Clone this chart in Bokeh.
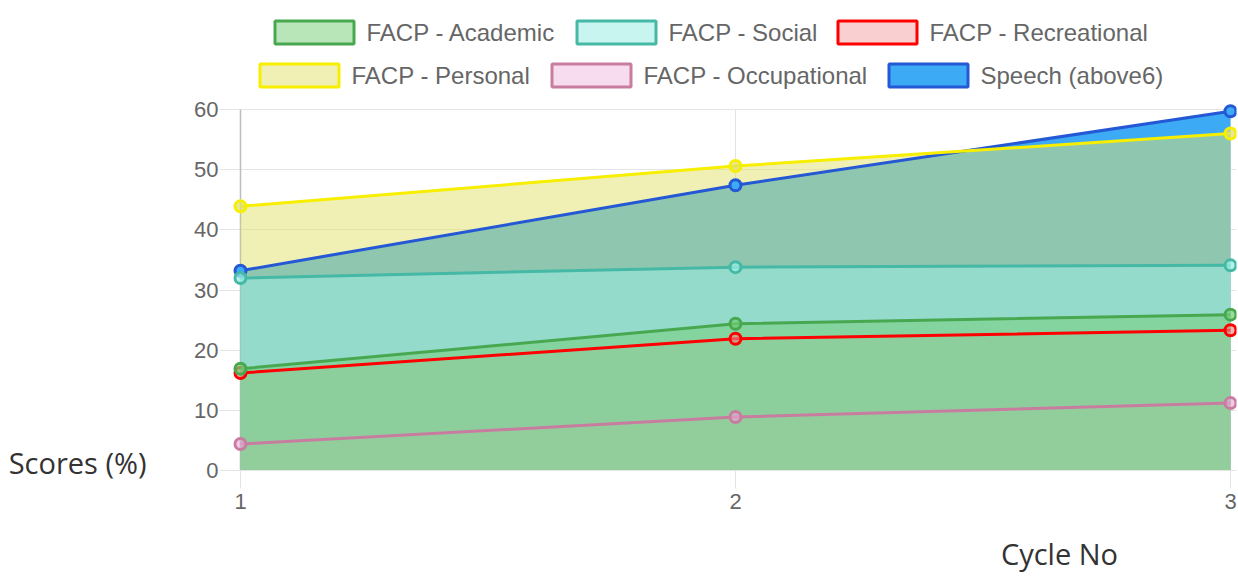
from bokeh.plotting import figure
from bokeh.models import Range1d, FixedTicker, LinearAxis
from bokeh.core.properties import value
from bokeh.embed import file_html
from bokeh.resources import INLINE

# ---------------- data ----------------
cycles = [1, 2, 3]
academic = [16.9, 24.4, 25.9]
social = [32.0, 33.8, 34.1]
recreational = [16.2, 21.9, 23.3]
personal = [43.9, 50.6, 56.0]
occupational = [4.4, 8.9, 11.2]
speech = [33.2, 47.4, 59.7]

series_names = ["FACP - Academic", "FACP - Social", "FACP - Recreational",
                "FACP - Personal", "FACP - Occupational", "Speech (above6)"]
series_values = [academic, social, recreational, personal, occupational, speech]
y_ticks = [0, 10, 20, 30, 40, 50, 60]
x_title = "Cycle No"
y_title = "Scores (%)"

# ---------------- styles ----------------
line_colors = ["#48A850", "#45B9A5", "#FF0000", "#F7EE00", "#C87DA0", "#2458D4"]
fill_colors = ["#73CD73", "#9BEDE4", "#F08787", "#E1E169", "#EBA5D7", "#3CAAF5"]
fill_alphas = [0.5, 0.55, 0.4, 0.5, 0.4, 1.0]

FONT = "Liberation Sans"
TITLE_FONT = "Open Sans"
GRID = "#e4e4e4"

# layout (page pixels): frame 231..1236 x 0..470 ; x=1 at 240, x=3 at 1230, y=60 at 109
px_x = 495.0
px_y = 361.0 / 60.0
W, H = 1237, 576
FL, FR, FT, FB = 231, 1236, 0, 470
x_start = 1 - (240 - FL) / px_x


def dx(sx):  # page x -> data x
    return x_start + (sx - FL) / px_x


def dy(sy):  # page y -> data y
    return (FB - sy) / px_y


p = figure(width=W, height=H, output_backend="svg", toolbar_location=None,
           x_range=Range1d(x_start, dx(FR)),
           y_range=Range1d(0, dy(FT)),
           min_border_left=FL, min_border_right=W - FR, min_border_top=FT,
           min_border_bottom=H - FB)
p.outline_line_color = None
p.background_fill_color = "white"

# grid / axes
p.xgrid.visible = False
p.ygrid.ticker = FixedTicker(ticks=y_ticks)
p.ygrid.grid_line_color = GRID
p.ygrid.grid_line_width = 1
p.ygrid.bounds = (y_ticks[0], y_ticks[-1])

p.xaxis.ticker = FixedTicker(ticks=cycles)
p.yaxis.ticker = FixedTicker(ticks=y_ticks)
for ax in (p.xaxis, p.yaxis):
    ax.major_label_text_font = FONT
    ax.major_label_text_font_size = "22px"
    ax.major_label_text_color = "#666666"
    ax.minor_tick_line_color = None
    ax.major_tick_in = 0
    ax.major_tick_line_color = GRID
p.xaxis.axis_line_color = GRID
p.xaxis.major_tick_out = 18
p.xaxis.major_label_standoff = 5
p.yaxis.axis_line_color = None
p.yaxis.major_tick_out = 12
p.yaxis.major_label_standoff = 1

# axis titles (single-label axes placed outside the main axes)
y_title_pos = dy(462)
x_title_pos = dx(1059)
ytitle_axis = LinearAxis(ticker=FixedTicker(ticks=[y_title_pos]),
                         major_label_overrides={y_title_pos: y_title},
                         axis_line_color=None, major_tick_line_color=None,
                         minor_tick_line_color=None, major_tick_out=0, major_tick_in=0,
                         major_label_standoff=45,
                         major_label_text_font=TITLE_FONT,
                         major_label_text_font_size="29px",
                         major_label_text_color="#333333")
p.add_layout(ytitle_axis, "left")
xtitle_axis = LinearAxis(ticker=FixedTicker(ticks=[x_title_pos]),
                         major_label_overrides={x_title_pos: x_title},
                         axis_line_color=None, major_tick_line_color=None,
                         minor_tick_line_color=None, major_tick_out=0, major_tick_in=0,
                         major_label_standoff=22,
                         major_label_text_font=TITLE_FONT,
                         major_label_text_font_size="29px",
                         major_label_text_color="#333333")
p.add_layout(xtitle_axis, "below")

# vertical grid lines at each cycle (first one darker, acting as axis border)
p.segment(x0=cycles[1:], y0=[y_ticks[0]] * 2, x1=cycles[1:], y1=[y_ticks[-1]] * 2,
          line_color=GRID, line_width=1)
p.segment(x0=cycles[:1], y0=[y_ticks[0]], x1=cycles[:1], y1=[y_ticks[-1]],
          line_color="#bdbdbd", line_width=1.5)

# fills: drawn from last dataset to first (first on top)
order = list(range(len(series_values)))[::-1]
for i in order:
    p.varea(x=cycles, y1=[0] * len(cycles), y2=series_values[i],
            fill_color=fill_colors[i], fill_alpha=fill_alphas[i])

# lines and points
for i in order:
    p.line(cycles, series_values[i], line_color=line_colors[i], line_width=3)
    p.scatter(cycles, series_values[i], size=11, fill_color=fill_colors[i],
              fill_alpha=min(1.0, fill_alphas[i] + 0.2),
              line_color=line_colors[i], line_width=3)

# legend (two centred rows above the plot area)
legend_rows = [[0, 1, 2], [3, 4, 5]]
row_left = [[273, 575, 836], [258, 550, 887]]   # swatch left edges (page px)
row_centre = [32, 75]                           # row centres (page px)
SW, SH = 82, 26
for r, items in enumerate(legend_rows):
    for k, i in enumerate(items):
        left = row_left[r][k]
        p.rect(x=[dx(left + SW / 2)], y=[dy(row_centre[r])], width=SW - 3, height=SH - 3,
               width_units="screen", height_units="screen",
               fill_color=fill_colors[i], fill_alpha=fill_alphas[i],
               line_color=line_colors[i], line_width=3)
        p.text(x=[dx(left + SW + 11)], y=[dy(row_centre[r])], text=[series_names[i]],
               text_font=value(FONT), text_font_size="24px", text_color="#666666",
               text_align="left", text_baseline="middle")

open("out.html", "w").write(file_html(p, INLINE))
